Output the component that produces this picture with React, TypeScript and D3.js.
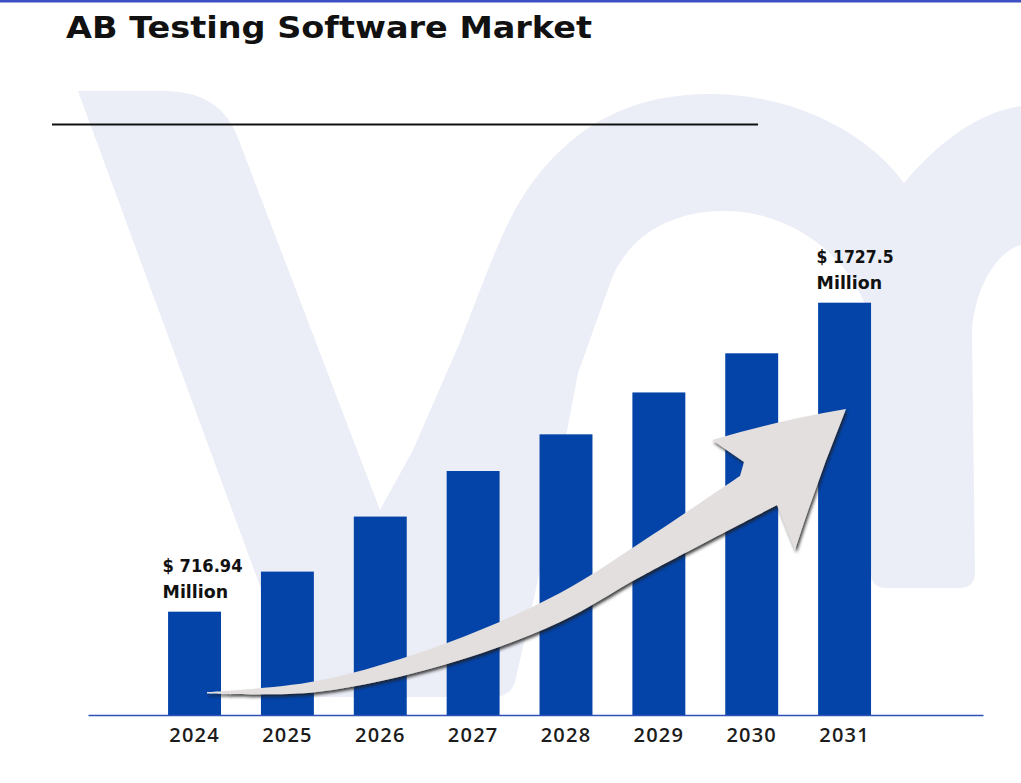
import React from 'react';
import * as d3 from 'd3';

// chart data
const years = ['2024', '2025', '2026', '2027', '2028', '2029', '2030', '2031'];
const marketValues = [716.94, 848, 1028, 1177, 1297, 1434, 1562, 1727.5];
const labelledYears = ['2024', '2031'];
const valueLabels = ['$ 716.94', '$ 1727.5'];
const unitLabel = 'Million';
const title = 'AB Testing Software Market';

const width = 1021;
const height = 783;
const baseline = 715;
const barColor = '#0444a9';
const watermark = '#eceef7';
const font = "'DejaVu Sans', Verdana, sans-serif";

// light "Vm" logo behind the chart (decoration only)
const watermarkPath = [
  'M78,91 L168,91 Q222,93 238,138 L380,510 L413,450 L460,342',
  'C490,265 505,220 532,183 C580,118 640,94 710,94',
  'C790,94 865,130 904,183 C940,140 980,112 1021,106 L1021,245',
  'C995,252 975,290 972,330 L975,572 Q975,588 960,588 L886,588 Q871,588 871,572 L871,330',
  'C865,270 800,211 725,211 C665,211 628,240 612,278 L578,373 L542,562 L515,682',
  'Q510,697 494,697 L305,697 Q298,697 296,684 Z',
].join(' ');

// growth arrow outline (decoration only)
const arrowUpper: [number, number][] = [
  [207, 692], [317, 681], [447, 643], [560, 593], [640, 543], [740, 476],
];
const arrowLower: [number, number][] = [
  [777, 505], [640, 577], [560, 622], [447, 664], [317, 692], [207, 693.5],
];

export default function App() {
  const x = d3.scaleBand<string>()
    .domain(years)
    .range([88, 983])
    .paddingInner(0.43)
    .paddingOuter(1.034)
    .align(0.417);

  const y = d3.scaleLinear()
    .domain([379, 1727.5])
    .range([baseline, 302.7]);

  const edge = d3.line().curve(d3.curveCatmullRom.alpha(0.5));
  const upper = edge(arrowUpper) as string;
  const lower = (edge(arrowLower) as string).replace(/^M/, 'L');
  const arrowPath = `${upper} L744,462 L712,440 Q780,420 846,409 Q818,478 795,550 L777,505 ${lower} Z`;

  const axisRef = React.useRef<SVGGElement>(null);

  React.useEffect(() => {
    const g = d3.select(axisRef.current);
    g.call(d3.axisBottom(x).tickSize(0).tickSizeOuter(0).tickPadding(13));
    g.select('.domain').attr('stroke', '#2f52b8').attr('stroke-width', 1.5);
    g.selectAll('text')
      .attr('font-family', "'Open Sans', sans-serif")
      .attr('font-size', 20)
      .attr('font-weight', 600)
      .attr('letter-spacing', 1.2)
      .attr('fill', '#1c1c1c');
  }, []);

  return (
    <svg width={width} height={height}
      style={{ position: 'absolute', left: 0, top: 0, display: 'block', background: '#fff' }}>
      <defs>
        <filter id="shadow" x="-10%" y="-10%" width="130%" height="140%">
          <feDropShadow dx="1.5" dy="2.5" stdDeviation="1.4" floodColor="#222" floodOpacity="0.85" />
        </filter>
      </defs>

      <rect x={0} y={0} width={width} height={height} fill="#fff" />
      <rect x={0} y={0} width={width} height={2.5} fill="#3d4fc4" />

      <path d={watermarkPath} fill={watermark} />

      <text x={66} y={38} fontFamily={font} fontSize={30} fontWeight={700} fill="#111"
        textLength={526} lengthAdjust="spacingAndGlyphs">{title}</text>
      <line x1={52} x2={758} y1={124.5} y2={124.5} stroke="#111" strokeWidth={2.2} />

      <g>
        {years.map((yr, i) => (
          <rect key={yr} x={x(yr)} y={y(marketValues[i])} width={x.bandwidth()}
            height={baseline - y(marketValues[i])} fill={barColor} />
        ))}
      </g>

      <path d={arrowPath} fill="#e3dfdf" filter="url(#shadow)" />

      <g ref={axisRef} transform={`translate(0,${baseline})`} />

      {labelledYears.map((yr, i) => {
        const v = marketValues[years.indexOf(yr)];
        const lx = (x(yr) as number) - (i === 0 ? 5.5 : 1.5);
        return (
          <g key={yr} fontFamily={font} fontSize={18} fontWeight={700} fill="#111">
            <text x={lx} y={y(v) - 40} textLength={i === 0 ? 80 : 77} lengthAdjust="spacingAndGlyphs">
              {valueLabels[i]}
            </text>
            <text x={lx} y={y(v) - 14} textLength={65.5} lengthAdjust="spacingAndGlyphs">
              {unitLabel}
            </text>
          </g>
        );
      })}
    </svg>
  );
}
